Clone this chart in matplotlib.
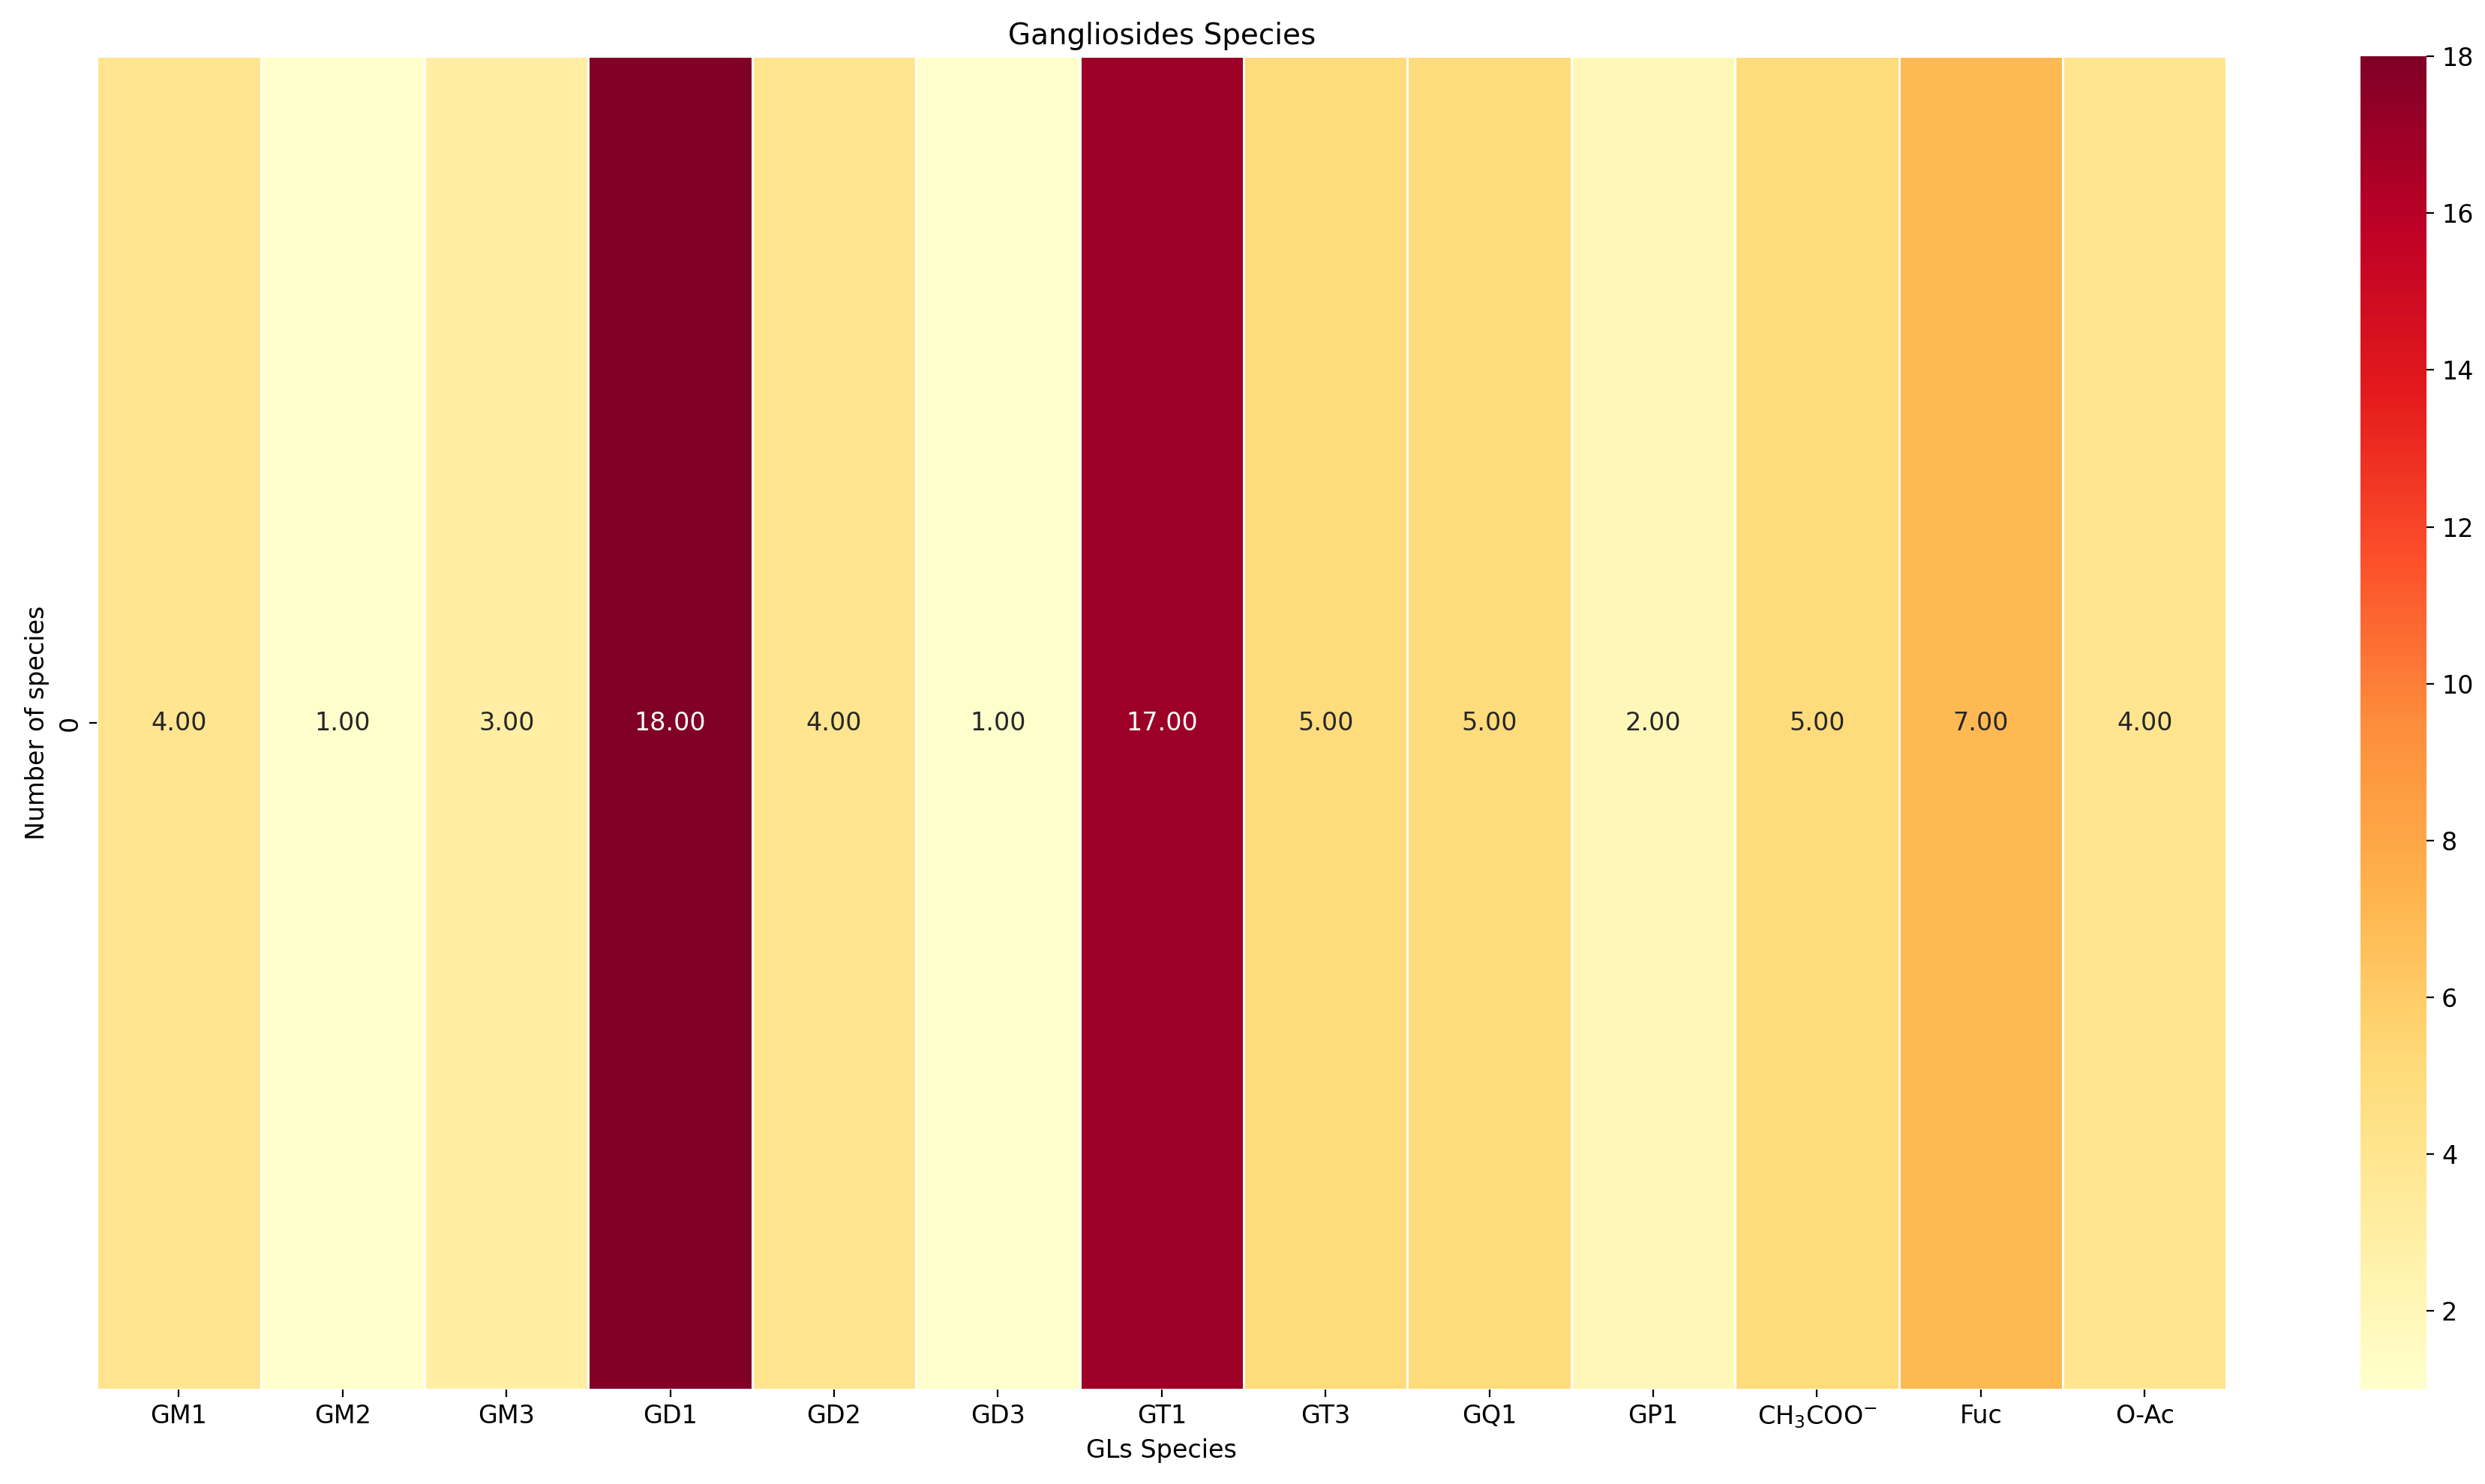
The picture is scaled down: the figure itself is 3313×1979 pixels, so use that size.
import numpy as np
import pandas as pd
import matplotlib
matplotlib.use('Agg')
import matplotlib.pyplot as plt
import seaborn as sns

# 강글리오사이드 종류별 개수
species = ['GM1', 'GM2', 'GM3', 'GD1', 'GD2', 'GD3', 'GT1', 'GT3', 'GQ1', 'GP1',
           r'CH$_3$COO$^{-}$', 'Fuc', 'O-Ac']
counts = [4, 1, 3, 18, 4, 1, 17, 5, 5, 2, 5, 7, 4]

df = pd.DataFrame([counts], columns=species)

fig = plt.figure(figsize=(16.565, 9.895), dpi=200)
ax = fig.add_axes([0.039, 0.0637, 0.857, 0.8983])
cax = fig.add_axes([0.950, 0.0637, 0.0266, 0.8983])

sns.heatmap(df, ax=ax, cbar_ax=cax, cmap='YlOrRd', annot=True, fmt='.2f',
            linewidths=1, linecolor='white', annot_kws={'fontsize': 12})

ax.set_title('Gangliosides Species', fontsize=14)
ax.set_xlabel('GLs Species', fontsize=12)
ax.set_ylabel('Number of species', fontsize=12)
ax.tick_params(axis='x', labelsize=12, rotation=0)
ax.tick_params(axis='y', labelsize=12)
cax.tick_params(labelsize=12)

fig.savefig('out.png', dpi=200)
